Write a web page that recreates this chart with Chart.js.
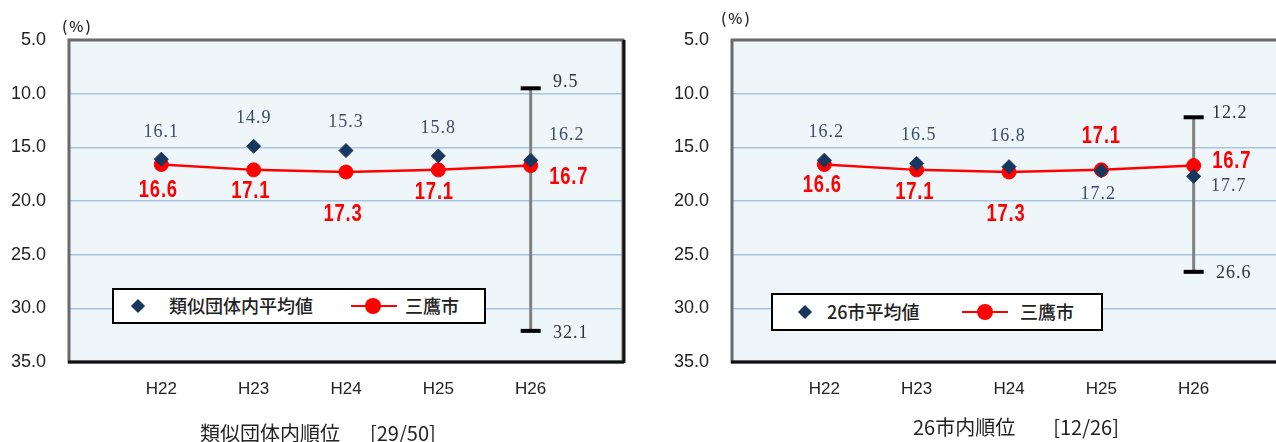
<!DOCTYPE html>
<html lang="ja">
<head>
    <meta charset="UTF-8">
    <title>三鷹市 比較グラフ</title>
    <script src="https://cdn.jsdelivr.net/npm/chart.js"></script>
    <style>
        body {
            margin: 0;
            width: 1276px;
            height: 442px;
            overflow: hidden;
            position: relative;
            background: #fff;
            font-family: 'Noto Sans CJK JP', sans-serif;
            color: #222;
        }

        canvas {
            position: absolute;
            top: 0;
        }

        #chart1 { left: 0; }
        #chart2 { left: 640px; }

        .unit {
            position: absolute;
            font-size: 15px;
            line-height: 15px;
            font-weight: 500;
            letter-spacing: 2px;
        }

        .legend {
            position: absolute;
            background: #fff;
            border: 2px solid #000;
            box-sizing: border-box;
            font-size: 18px;
            font-weight: 500;
        }

        .legend .txt {
            position: absolute;
            top: 50%;
            transform: translateY(-54%);
            white-space: nowrap;
            line-height: 1;
        }

        .legend .dia {
            position: absolute;
            top: 50%;
            width: 10px;
            height: 10px;
            margin: -5px 0 0 -5px;
            background: #17375E;
            transform: rotate(45deg);
        }

        .legend .ln {
            position: absolute;
            top: 50%;
            height: 2px;
            margin-top: -1px;
            background: #FF0000;
        }

        .legend .dot {
            position: absolute;
            top: 50%;
            width: 16px;
            height: 16px;
            margin: -8px 0 0 -8px;
            border-radius: 50%;
            background: #FF0000;
        }

        .title {
            position: absolute;
            font-size: 20px;
            line-height: 1;
            white-space: nowrap;
        }
    </style>
</head>
<body>
<canvas id="chart1" width="640" height="442"></canvas>
<canvas id="chart2" width="660" height="442"></canvas>

<div class="unit" style="left:62px; top:18px;">(%)</div>
<div class="unit" style="left:721px; top:10px;">(%)</div>

<div class="legend" style="left:112px; top:288px; width:374px; height:36px;">
    <div class="dia" style="left:24px;"></div>
    <div class="txt" style="left:55px;">類似団体内平均値</div>
    <div class="ln" style="left:237px; width:46px;"></div>
    <div class="dot" style="left:259px;"></div>
    <div class="txt" style="left:291px;">三鷹市</div>
</div>
<div class="legend" style="left:771px; top:293px; width:332px; height:38px;">
    <div class="dia" style="left:32px;"></div>
    <div class="txt" style="left:54px;">26市平均値</div>
    <div class="ln" style="left:189px; width:46px;"></div>
    <div class="dot" style="left:212px;"></div>
    <div class="txt" style="left:247px;">三鷹市</div>
</div>

<div class="title" style="left:200px; top:423px;">類似団体内順位<span style="margin-left:30px;">[29/50]</span></div>
<div class="title" style="left:913px; top:417px;">26市内順位<span style="margin-left:38px;">[12/26]</span></div>

<script>
    // 年度
    const years = ['H22', 'H23', 'H24', 'H25', 'H26'];

    // 三鷹市（両グラフ共通）
    const mitaka = [16.6, 17.1, 17.3, 17.1, 16.7];

    // 類似団体内平均値
    const similarAvg = [16.1, 14.9, 15.3, 15.8, 16.2];
    const similarRange = [9.5, 32.1];   // H26 最小・最大

    // 26市平均値
    const cityAvg = [16.2, 16.5, 16.8, 17.2, 17.7];
    const cityRange = [12.2, 26.6];     // H26 最小・最大

    const yTicks = [5, 10, 15, 20, 25, 30, 35];

    const BLUE = '#17375E';
    const RED = '#FF0000';

    // 各ラベルの配置（点からのずれ, px）
    const labelOffsets1 = {
        avg: [[0, -27], [0, -28], [0, -28], [0, -28], [36, -25]],
        own: [[-3, 26], [-3, 22], [-3, 43], [-4, 23], [38, 12]],
        range: [[35, -6], [40, 2]]
    };
    const labelOffsets2 = {
        avg: [[2, -28], [2, -28], [-1, -30], [-3, 23], [35, 10]],
        own: [[-2, 21], [-2, 23], [-3, 43], [0, -33], [38, -4]],
        range: [[36, -4], [40, 1]]
    };

    const toPoints = arr => arr.map((v, i) => ({x: i + 1, y: v}));

    // 背景と枠線
    const framePlugin = {
        id: 'frame',
        beforeDraw(chart) {
            const a = chart.chartArea;
            const ctx = chart.ctx;
            ctx.save();
            ctx.fillStyle = '#EEF6FA';
            ctx.fillRect(a.left, a.top, a.right - a.left, a.bottom - a.top);
            ctx.restore();
        },
        afterDraw(chart) {
            const a = chart.chartArea;
            const ctx = chart.ctx;
            ctx.save();
            ctx.strokeStyle = '#6a6a6a';
            ctx.lineWidth = 3;
            ctx.strokeRect(a.left, a.top, a.right - a.left, a.bottom - a.top);
            ctx.strokeStyle = '#111';
            ctx.beginPath();
            ctx.moveTo(a.left - 1, a.bottom);
            ctx.lineTo(a.right + 1, a.bottom);
            ctx.moveTo(a.right + 1, a.top);
            ctx.lineTo(a.right + 1, a.bottom + 1);
            ctx.stroke();
            ctx.restore();
        }
    };

    // 数値ラベル
    const valueLabelPlugin = {
        id: 'valueLabels',
        afterDatasetsDraw(chart, args, opts) {
            const ctx = chart.ctx;
            chart.data.datasets.forEach((ds, di) => {
                const offsets = opts.offsets[ds.key];
                const meta = chart.getDatasetMeta(di);
                meta.data.forEach((pt, i) => {
                    const off = offsets[i];
                    const text = ds.data[i].y.toFixed(1);
                    const x = pt.x + off[0];
                    const y = pt.y + off[1];
                    ctx.save();
                    ctx.textAlign = 'center';
                    ctx.textBaseline = 'middle';
                    if (ds.key === 'own') {
                        // 縦長の太字
                        ctx.font = 'bold 23px "Liberation Sans", Arial, sans-serif';
                        ctx.fillStyle = RED;
                        ctx.translate(x, y);
                        ctx.scale(0.8, 1);
                        ctx.letterSpacing = '1px';
                        ctx.fillText(text, 0, 0);
                    } else {
                        ctx.font = '18px "Liberation Serif", "DejaVu Serif", serif';
                        ctx.fillStyle = ds.key === 'avg' ? '#3B4C6B' : '#333';
                        ctx.letterSpacing = '1px';
                        ctx.fillText(text, x, y);
                    }
                    ctx.restore();
                });
            });
        }
    };

    function makeChart(id, avg, range, offsets, yWidth, padRight) {
        const ctx = document.getElementById(id).getContext('2d');
        return new Chart(ctx, {
            type: 'line',
            data: {
                datasets: [
                    {
                        key: 'avg',
                        data: toPoints(avg),
                        showLine: false,
                        pointStyle: 'rectRot',
                        pointRadius: 7,
                        pointBackgroundColor: BLUE,
                        pointBorderColor: BLUE,
                        pointBorderWidth: 1,
                        order: 0
                    },
                    {
                        key: 'own',
                        data: toPoints(mitaka),
                        borderColor: RED,
                        borderWidth: 2.5,
                        tension: 0,
                        pointStyle: 'circle',
                        pointRadius: 7,
                        pointBackgroundColor: RED,
                        pointBorderColor: RED,
                        pointBorderWidth: 1,
                        order: 1
                    },
                    {
                        key: 'range',
                        data: range.map(v => ({x: years.length, y: v})),
                        borderColor: '#808080',
                        borderWidth: 3,
                        pointStyle: 'line',
                        pointRadius: 10,
                        pointBorderColor: '#000',
                        pointBorderWidth: 4,
                        order: 2
                    }
                ]
            },
            options: {
                responsive: false,
                devicePixelRatio: 1,
                animation: false,
                events: [],
                layout: {
                    padding: {left: 0, top: 40, right: padRight, bottom: 0}
                },
                plugins: {
                    legend: {display: false},
                    tooltip: {enabled: false},
                    valueLabels: {offsets: offsets}
                },
                scales: {
                    x: {
                        type: 'linear',
                        min: 0,
                        max: years.length + 1,
                        afterBuildTicks: axis => {
                            axis.ticks = years.map((y, i) => ({value: i + 1}));
                        },
                        afterFit: axis => { axis.height = 80; },
                        grid: {display: false},
                        border: {display: false},
                        ticks: {
                            padding: 9,
                            color: '#222',
                            font: {family: '"Liberation Sans", Arial, sans-serif', size: 17},
                            callback: v => years[v - 1] || ''
                        }
                    },
                    y: {
                        reverse: true,
                        min: 5,
                        max: 35,
                        afterBuildTicks: axis => {
                            axis.ticks = yTicks.map(v => ({value: v}));
                        },
                        afterFit: axis => { axis.width = yWidth; },
                        grid: {color: '#A9C4DE', lineWidth: 1.5, drawTicks: false},
                        border: {display: false},
                        ticks: {
                            padding: 23,
                            color: '#222',
                            font: {family: '"Liberation Sans", Arial, sans-serif', size: 18},
                            callback: v => v.toFixed(1)
                        }
                    }
                }
            },
            plugins: [framePlugin, valueLabelPlugin]
        });
    }

    makeChart('chart1', similarAvg, similarRange, labelOffsets1, 69, 17);
    makeChart('chart2', cityAvg, cityRange, labelOffsets2, 92, 14);
</script>
</body>
</html>
